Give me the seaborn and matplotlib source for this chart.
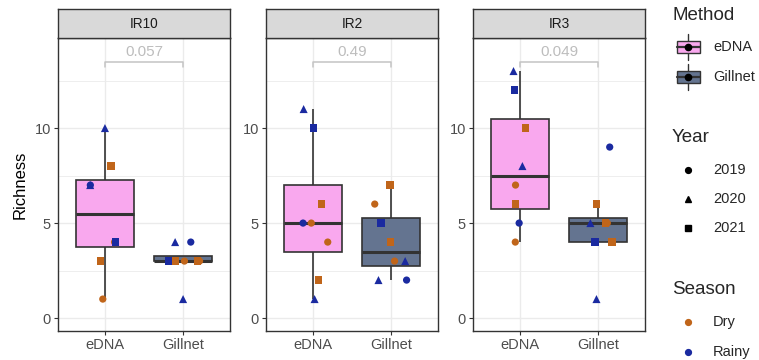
import numpy as np
import pandas as pd
import matplotlib
matplotlib.use("Agg")
import matplotlib.pyplot as plt
from matplotlib.patches import Rectangle
import seaborn as sns

# ---- data -------------------------------------------------------------
sites = ["IR10"] * 16 + ["IR2"] * 16 + ["IR3"] * 16
methods = (["eDNA"] * 8 + ["Gillnet"] * 8) * 3
richness = [
    10, 7, 7, 8, 4, 4, 3, 1,      # IR10 eDNA
    4, 4, 3, 3, 3, 3, 3, 1,       # IR10 Gillnet
    11, 10, 6, 5, 5, 4, 2, 1,     # IR2 eDNA
    7, 6, 5, 4, 3, 3, 2, 2,       # IR2 Gillnet
    13, 12, 10, 8, 7, 6, 5, 4,    # IR3 eDNA
    9, 6, 5, 5, 5, 4, 4, 1,       # IR3 Gillnet
]
years = [
    2020, 2020, 2019, 2021, 2021, 2019, 2021, 2019,
    2020, 2019, 2021, 2019, 2019, 2021, 2021, 2020,
    2020, 2021, 2021, 2019, 2019, 2019, 2021, 2020,
    2021, 2019, 2021, 2021, 2020, 2019, 2019, 2020,
    2020, 2021, 2021, 2020, 2019, 2021, 2019, 2019,
    2019, 2021, 2021, 2020, 2019, 2021, 2021, 2020,
]
seasons = [
    "Rainy", "Rainy", "Rainy", "Dry", "Rainy", "Dry", "Dry", "Dry",
    "Rainy", "Rainy", "Rainy", "Dry", "Dry", "Dry", "Dry", "Rainy",
    "Rainy", "Rainy", "Dry", "Rainy", "Dry", "Dry", "Dry", "Rainy",
    "Dry", "Dry", "Rainy", "Dry", "Rainy", "Dry", "Rainy", "Rainy",
    "Rainy", "Rainy", "Dry", "Rainy", "Dry", "Dry", "Rainy", "Dry",
    "Rainy", "Dry", "Dry", "Rainy", "Dry", "Rainy", "Dry", "Rainy",
]
site_order = ["IR10", "IR2", "IR3"]
method_order = ["eDNA", "Gillnet"]
year_order = [2019, 2020, 2021]
season_order = ["Dry", "Rainy"]
p_values = ["0.057", "0.49", "0.049"]

df = pd.DataFrame({"Site": sites, "Method": methods, "Richness": richness,
                   "Year": years, "Season": seasons})

# ---- style ------------------------------------------------------------
sns.set_style("white")
plt.rcParams["font.family"] = ["Liberation Sans", "DejaVu Sans"]

method_colors = {"eDNA": "#F9A8EE", "Gillnet": "#647490"}
season_colors = {"Dry": "#C0651A", "Rainy": "#1A2AA0"}
year_markers = {2019: "o", 2020: "^", 2021: "s"}
edge = "#333333"
grid_c = "#EBEBEB"
tick_c = "#4D4D4D"

W, H = 759, 360
fig = plt.figure(figsize=(W / 100, H / 100), dpi=100)

panel_left = [58, 266, 473]
panel_w = 172
panel_top, panel_bot = 38, 331
strip_top = 9

np.random.seed(7)
for i, site in enumerate(site_order):
    x0 = panel_left[i]
    ax = fig.add_axes([x0 / W, 1 - panel_bot / H, panel_w / W,
                       (panel_bot - panel_top) / H])
    sub = df[df["Site"] == site]

    sns.boxplot(data=sub, x="Method", y="Richness", hue="Method",
                order=method_order, hue_order=method_order,
                palette=method_colors, saturation=1, width=0.75,
                showfliers=False, showcaps=False, linecolor=edge,
                linewidth=1.2, medianprops=dict(linewidth=2.2),
                legend=False, ax=ax, zorder=2)

    for yr in year_order:
        pts = sub[sub["Year"] == yr]
        sns.stripplot(data=pts, x="Method", y="Richness", hue="Season",
                      order=method_order, hue_order=season_order,
                      palette=season_colors, marker=year_markers[yr],
                      size=5.2 if yr != 2020 else 5.8, jitter=0.22,
                      linewidth=0, legend=False, ax=ax, zorder=3)

    # significance bracket
    ax.plot([0, 0, 1, 1], [13.2, 13.5, 13.5, 13.2], color="#C4C4C4",
            lw=1.1, zorder=4, clip_on=False)
    ax.text(0.5, 13.62, p_values[i], ha="center", va="bottom",
            fontsize=11, color="#BDBDBD", zorder=4)

    ax.set_xlim(-0.6, 1.6)
    ax.set_ylim(-0.68, 14.74)
    ax.set_yticks([0, 5, 10])
    ax.set_yticks([2.5, 7.5, 12.5], minor=True)
    ax.set_xticks([0, 1])
    ax.set_xticklabels(method_order)
    ax.grid(True, which="major", color=grid_c, lw=1.0, zorder=0)
    ax.grid(True, which="minor", axis="y", color=grid_c, lw=0.6, zorder=0)
    ax.set_axisbelow(True)
    ax.set_xlabel("")
    ax.set_ylabel("")
    ax.tick_params(axis="both", which="major", length=3, width=0.8,
                   color=edge, labelcolor=tick_c, labelsize=10.5, pad=2,
                   left=True, bottom=True)
    ax.tick_params(which="minor", length=0)
    for s in ax.spines.values():
        s.set_color(edge)
        s.set_linewidth(1.0)

    # facet strip
    sx = fig.add_axes([x0 / W, 1 - panel_top / H, panel_w / W,
                       (panel_top - strip_top) / H])
    sx.set_facecolor("#D9D9D9")
    sx.set_xticks([])
    sx.set_yticks([])
    for s in sx.spines.values():
        s.set_color(edge)
        s.set_linewidth(1.0)
    sx.text(0.5, 0.5, site, ha="center", va="center", fontsize=9.8,
            color="#1A1A1A", transform=sx.transAxes)

fig.text(20 / W, 1 - ((panel_top + panel_bot) / 2) / H, "Richness",
         rotation=90, ha="center", va="center", fontsize=12, color="black")

# ---- legends ----------------------------------------------------------
lg = fig.add_axes([0, 0, 1, 1], zorder=5)
lg.set_xlim(0, W)
lg.set_ylim(H, 0)
lg.axis("off")

title_x, key_x, label_x = 672, 688, 713
lg.text(title_x, 15, "Method", fontsize=13.5, va="center", ha="left")
for m, yc in zip(method_order, [47, 77]):
    lg.plot([key_x, key_x], [yc - 13, yc + 13], color=edge, lw=1.0, zorder=1)
    lg.add_patch(Rectangle((key_x - 11.5, yc - 6), 23, 12, zorder=2,
                           facecolor=method_colors[m], edgecolor=edge, lw=1.0))
    lg.plot([key_x - 11.5, key_x + 11.5], [yc, yc], color=edge, lw=1.6,
            zorder=3)
    lg.plot(key_x, yc, marker="o", color="black", ms=4.5, zorder=4)
    lg.text(label_x, yc, m, fontsize=10.5, va="center", ha="left")

lg.text(title_x, 137, "Year", fontsize=13.5, va="center", ha="left")
for yr, yc in zip(year_order, [170, 199, 228]):
    lg.plot(key_x, yc, marker=year_markers[yr], color="black", ms=4.2, lw=0)
    lg.text(label_x, yc, str(yr), fontsize=10.5, va="center", ha="left")

lg.text(title_x, 290, "Season", fontsize=13.5, va="center", ha="left")
for s, yc in zip(season_order, [322, 352]):
    lg.plot(key_x, yc, marker="o", color=season_colors[s], ms=4.2, lw=0)
    lg.text(label_x, yc, s, fontsize=10.5, va="center", ha="left")

fig.savefig("out.png", dpi=100)
